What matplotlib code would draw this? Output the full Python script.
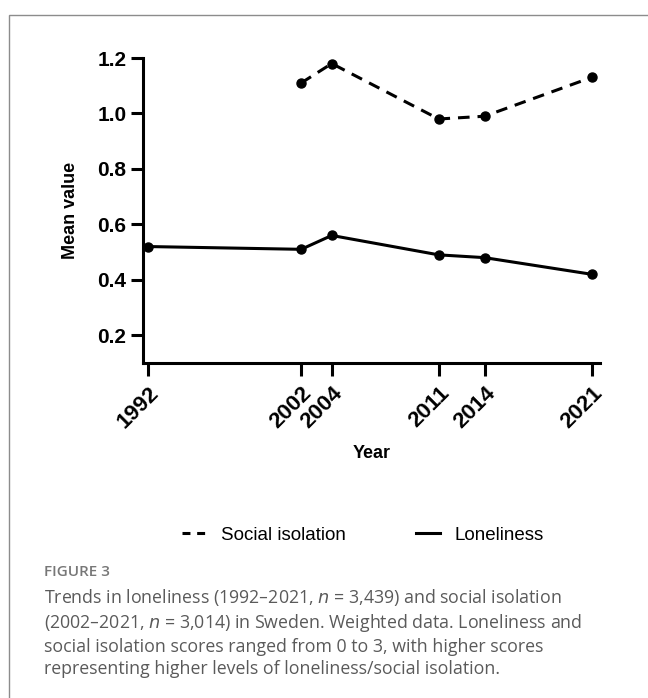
import matplotlib
matplotlib.use('Agg')
import matplotlib.pyplot as plt
from matplotlib.lines import Line2D
from matplotlib.patches import Rectangle

# data
years = [1992, 2002, 2004, 2011, 2014, 2021]
loneliness = [0.52, 0.51, 0.56, 0.49, 0.48, 0.42]
iso_years = [2002, 2004, 2011, 2014, 2021]
social_isolation = [1.11, 1.18, 0.98, 0.99, 1.13]
yticks = [0.2, 0.4, 0.6, 0.8, 1.0, 1.2]

plt.rcParams['font.family'] = ['Liberation Sans', 'DejaVu Sans']

fig = plt.figure(figsize=(6.48, 6.98), dpi=100)
ax = fig.add_axes([143/648, 1-363/698, (600-143)/648, (363-58)/698])

lw = 2.2
ax.plot(iso_years, social_isolation, color='black', lw=lw, dashes=(3.8, 2.6),
        marker='o', ms=6.5)
ax.plot(years, loneliness, color='black', lw=lw, marker='o', ms=6.5)

ax.set_xlim(1991.65, 2021.55)
ax.set_ylim(0.1, 1.2)
ax.set_yticks(yticks)
ax.set_yticklabels(['%.1f' % v for v in yticks], fontsize=15, fontweight='bold')
ax.set_xticks(years)
ax.set_xticklabels([str(y) for y in years], fontsize=16, fontweight='bold',
                   rotation=45, ha='right', rotation_mode='anchor')
ax.tick_params(width=lw, length=9, pad=3)
ax.tick_params(axis='x', pad=5)
for s in ['top', 'right']:
    ax.spines[s].set_visible(False)
for s in ['left', 'bottom']:
    ax.spines[s].set_linewidth(lw)
ax.set_ylabel('Mean value', fontsize=13, fontweight='bold', labelpad=13)
ax.set_xlabel('Year', fontsize=13, fontweight='bold', labelpad=9)

# legend
h1 = Line2D([], [], color='black', lw=lw, dashes=(2.6, 2.2))
h2 = Line2D([], [], color='black', lw=lw)
fig.legend([h1, h2], ['Social isolation', 'Loneliness'], loc='center',
           bbox_to_anchor=(363/648, 1-535/698), ncol=2, frameon=False,
           fontsize=13.5, handlelength=1.33, columnspacing=3.7,
           handletextpad=0.75)

# frame of the figure panel
fig.patches.append(Rectangle((9/648, -0.05), 1.1, 1-15/698+0.05,
                             transform=fig.transFigure, fill=False,
                             edgecolor='#8c8c8c', lw=1.0))

cap_font = ['Open Sans', 'DejaVu Sans']
fig.text(44/648, 1-572/698, 'FIGURE 3', fontsize=11, color='#777777',
         family=cap_font, va='center', fontweight='semibold')
caption = ('Trends in loneliness (1992\u20132021, $\\it{n}$ = 3,439) and social isolation\n'
           '(2002\u20132021, $\\it{n}$ = 3,014) in Sweden. Weighted data. Loneliness and\n'
           'social isolation scores ranged from 0 to 3, with higher scores\n'
           'representing higher levels of loneliness/social isolation.')
fig.text(44/648, 1-587/698, caption, fontsize=12.8, color='#5a5a5a',
         family=cap_font, va='top', linespacing=1.27)

fig.savefig('out.png', dpi=100)
